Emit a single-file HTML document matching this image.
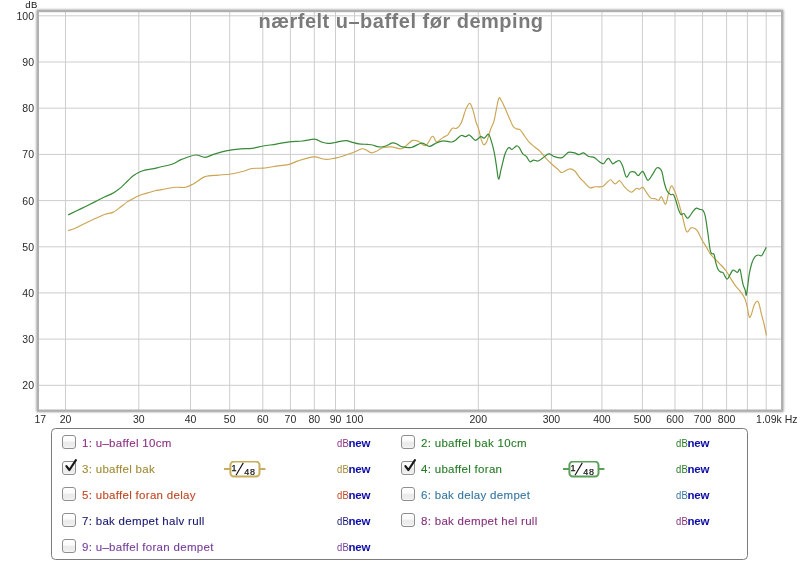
<!DOCTYPE html>
<html><head><meta charset="utf-8"><style>
html,body{margin:0;padding:0;background:#fff;width:800px;height:561px;overflow:hidden;font-family:"Liberation Sans",sans-serif;}
svg text{font-family:"Liberation Sans",sans-serif;}
.leg{position:absolute;left:51px;top:428px;width:695px;height:130px;border:1px solid #7c7c7c;border-radius:4.5px;box-sizing:content-box;}
.cb{position:absolute;width:12px;height:12px;border:1px solid #8e8e8e;border-radius:3px;background:linear-gradient(#fff 0%,#fbfbfb 40%,#ebebeb 55%,#ededed 85%,#f8f8f8 100%);}
.ck{position:absolute;left:0px;top:-4px;}
.lt{position:absolute;font-size:11.5px;line-height:14px;white-space:nowrap;letter-spacing:0.3px;-webkit-text-stroke:0.1px currentColor;}
.db{position:absolute;font-size:11.5px;line-height:14px;white-space:nowrap;letter-spacing:0.4px;transform:scaleX(0.82);transform-origin:0 0;}
.nw{color:#0c0ca8;font-weight:bold;letter-spacing:-0.1px;transform:none;}
.bsv{position:absolute;}
.bl{position:absolute;height:1.5px;}
.bd{position:absolute;width:27px;height:14px;border:1.5px solid;border-radius:4px;background:#fff;font-size:10px;color:#111;}
.n1{position:absolute;left:2px;top:0px;font-size:10px;}
.sl{position:absolute;left:6px;top:-1px;font-size:14px;}
.n2{position:absolute;left:13px;top:3px;font-size:10px;}
.wrap{position:absolute;left:0;top:0;width:800px;height:561px;will-change:transform;}
</style></head><body><div class="wrap">
<svg width="800" height="430" viewBox="0 0 800 430" style="position:absolute;left:0;top:0">
<defs><filter id="sh" x="-5%" y="-5%" width="110%" height="110%"><feGaussianBlur stdDeviation="1.3"/></filter></defs>
<rect x="38" y="11.2" width="744" height="399.3" fill="none" stroke="#777" stroke-width="3" filter="url(#sh)" opacity="0.75"/>
<rect x="38" y="11.2" width="744" height="399.3" fill="#fff"/>
<g stroke="#cdcdcd" stroke-width="1"><line x1="65.5" y1="11" x2="65.5" y2="410"/><line x1="138.8" y1="11" x2="138.8" y2="410"/><line x1="190.5" y1="11" x2="190.5" y2="410"/><line x1="229.7" y1="11" x2="229.7" y2="410"/><line x1="262.8" y1="11" x2="262.8" y2="410"/><line x1="290.4" y1="11" x2="290.4" y2="410"/><line x1="314.3" y1="11" x2="314.3" y2="410"/><line x1="335.5" y1="11" x2="335.5" y2="410"/><line x1="354.5" y1="11" x2="354.5" y2="410"/><line x1="478.3" y1="11" x2="478.3" y2="410"/><line x1="551.4" y1="11" x2="551.4" y2="410"/><line x1="601.9" y1="11" x2="601.9" y2="410"/><line x1="642.4" y1="11" x2="642.4" y2="410"/><line x1="675.0" y1="11" x2="675.0" y2="410"/><line x1="702.6" y1="11" x2="702.6" y2="410"/><line x1="726.6" y1="11" x2="726.6" y2="410"/><line x1="747.4" y1="11" x2="747.4" y2="410"/><line x1="766.2" y1="11" x2="766.2" y2="410"/><line x1="37" y1="385.3" x2="782" y2="385.3"/><line x1="37" y1="339.1" x2="782" y2="339.1"/><line x1="37" y1="292.9" x2="782" y2="292.9"/><line x1="37" y1="246.8" x2="782" y2="246.8"/><line x1="37" y1="200.6" x2="782" y2="200.6"/><line x1="37" y1="154.4" x2="782" y2="154.4"/><line x1="37" y1="108.2" x2="782" y2="108.2"/><line x1="37" y1="62.0" x2="782" y2="62.0"/><line x1="37" y1="15.8" x2="782" y2="15.8"/></g>
<text x="401" y="27.9" text-anchor="middle" font-size="20" font-weight="bold" fill="#7a7a7a" letter-spacing="0.5">nærfelt u–baffel før demping</text>
<path d="M68.2,230.6 C69.5,230.2 72.5,229.4 75.7,228.0 C78.9,226.6 82.6,224.5 87.5,222.2 C92.4,219.9 100.9,215.9 105.1,214.3 C109.3,212.7 110.6,213.4 112.9,212.4 C115.2,211.4 116.3,210.2 118.8,208.4 C121.2,206.6 125.6,203.0 127.6,201.6 C129.6,200.2 128.9,201.0 130.7,200.0 C132.5,199.0 135.7,196.9 138.6,195.7 C141.5,194.5 145.2,193.7 147.9,192.9 C150.6,192.1 152.7,191.2 155.0,190.7 C157.3,190.1 158.6,190.2 162.0,189.6 C165.4,189.0 171.8,187.7 175.7,187.3 C179.6,186.9 182.6,187.9 185.5,187.3 C188.4,186.7 191.3,184.9 193.3,183.9 C195.3,182.9 195.6,182.5 197.5,181.3 C199.4,180.1 201.6,177.6 205.0,176.6 C208.4,175.6 214.0,175.5 218.1,175.1 C222.2,174.7 225.3,174.8 229.4,174.2 C233.5,173.6 238.8,172.4 242.5,171.5 C246.2,170.6 248.5,169.1 251.9,168.5 C255.3,167.9 258.8,168.5 263.2,168.1 C267.6,167.7 273.8,166.5 278.2,165.9 C282.6,165.3 286.0,165.3 289.4,164.4 C292.8,163.5 294.7,161.8 298.8,160.6 C302.9,159.3 309.4,157.1 313.8,156.9 C318.2,156.7 321.6,159.1 325.1,159.3 C328.6,159.5 332.1,158.6 335.0,158.1 C337.9,157.6 339.4,157.3 342.5,156.3 C345.6,155.3 350.6,153.6 353.8,152.3 C357.0,151.1 359.8,149.2 361.9,148.8 C364.0,148.4 364.7,149.3 366.3,150.0 C367.9,150.7 369.6,152.6 371.3,152.8 C373.0,153.0 374.4,152.1 376.3,151.3 C378.2,150.5 380.0,148.5 382.5,147.8 C385.0,147.1 388.2,146.7 391.3,146.9 C394.4,147.1 398.8,149.0 401.3,148.8 C403.8,148.6 404.4,147.0 406.3,145.6 C408.2,144.2 410.4,141.1 412.5,140.4 C414.6,139.7 416.6,140.6 418.8,141.5 C421.0,142.4 423.3,146.5 425.6,145.6 C427.9,144.7 430.7,137.0 432.5,136.3 C434.3,135.7 435.0,141.1 436.2,141.7 C437.4,142.3 438.4,140.7 439.8,139.9 C441.2,139.1 443.0,137.5 444.3,136.7 C445.6,135.9 446.5,136.3 447.8,134.9 C449.1,133.5 450.8,129.4 452.3,128.3 C453.8,127.2 455.2,129.2 456.7,128.3 C458.2,127.4 459.7,126.1 461.2,123.0 C462.7,119.9 464.3,112.9 465.7,109.6 C467.1,106.3 468.4,103.4 469.6,103.4 C470.8,103.4 471.7,106.5 472.8,109.6 C473.9,112.7 475.1,119.0 476.0,122.1 C476.9,125.2 477.7,125.6 478.5,128.3 C479.3,131.0 480.0,135.4 480.8,138.1 C481.6,140.8 482.5,143.8 483.5,144.4 C484.5,145.0 485.5,144.2 486.7,141.7 C487.9,139.2 489.4,132.8 490.6,129.2 C491.9,125.6 492.9,125.3 494.2,120.3 C495.5,115.2 497.4,102.2 498.6,98.9 C499.8,95.6 500.2,99.2 501.3,100.7 C502.4,102.2 503.7,105.2 504.9,107.8 C506.1,110.4 507.2,113.3 508.6,116.4 C510.0,119.5 511.7,124.1 513.0,126.2 C514.3,128.3 515.4,128.3 516.6,128.9 C517.8,129.5 518.9,128.6 520.2,129.8 C521.5,131.0 523.1,133.9 524.6,136.0 C526.1,138.1 527.5,140.4 529.1,142.2 C530.7,144.0 532.6,145.2 534.4,146.7 C536.2,148.2 537.9,149.2 539.8,151.1 C541.7,153.0 543.9,156.1 546.0,158.3 C548.1,160.5 550.3,162.7 552.2,164.5 C554.1,166.3 556.0,167.7 557.6,169.0 C559.2,170.3 560.1,172.5 562.0,172.5 C563.9,172.5 567.1,169.3 569.2,169.0 C571.3,168.7 572.7,169.3 574.5,170.8 C576.3,172.3 578.3,176.0 579.9,177.9 C581.5,179.8 582.7,180.7 584.3,182.3 C585.9,183.9 587.9,186.9 589.7,187.7 C591.5,188.4 593.1,187.0 595.0,186.8 C596.9,186.7 599.9,186.9 601.3,186.8 C602.7,186.7 602.6,186.7 603.6,186.0 C604.6,185.3 605.9,183.4 607.1,182.4 C608.3,181.4 609.4,179.6 610.7,179.8 C612.1,180.1 613.7,183.8 615.2,183.9 C616.7,184.1 618.0,180.1 619.6,180.7 C621.2,181.3 623.1,185.5 625.0,187.4 C626.9,189.3 629.3,192.0 631.2,192.2 C633.1,192.3 635.2,188.8 636.5,188.3 C637.8,187.8 638.2,189.3 639.2,189.2 C640.2,189.0 641.6,186.9 642.8,187.4 C644.0,187.9 645.0,190.4 646.3,192.2 C647.6,194.0 649.3,197.0 650.8,198.1 C652.3,199.2 654.0,198.4 655.3,198.8 C656.6,199.2 657.8,200.7 658.8,200.3 C659.8,200.0 660.4,196.0 661.5,196.7 C662.6,197.3 664.4,204.8 665.6,204.2 C666.8,203.6 667.7,196.1 668.6,193.1 C669.5,190.1 670.4,186.6 671.3,186.0 C672.2,185.4 672.8,186.9 674.0,189.6 C675.2,192.3 677.1,197.8 678.4,202.0 C679.7,206.2 680.6,209.6 682.0,214.5 C683.4,219.4 685.0,229.3 686.5,231.5 C688.0,233.7 689.4,228.3 690.9,227.9 C692.4,227.5 694.2,228.1 695.4,228.8 C696.6,229.5 696.9,230.0 698.0,231.9 C699.1,233.8 700.7,237.6 702.0,240.0 C703.3,242.4 704.6,244.1 706.0,246.4 C707.4,248.7 708.6,251.5 710.1,253.6 C711.6,255.7 713.4,257.3 715.0,259.0 C716.6,260.7 717.9,261.8 719.8,263.8 C721.7,265.8 724.3,268.4 726.2,271.0 C728.1,273.6 729.5,276.6 731.1,279.1 C732.7,281.7 734.3,284.2 735.9,286.3 C737.5,288.4 739.2,289.9 740.7,291.9 C742.2,293.9 743.6,295.9 744.7,298.3 C745.8,300.7 746.4,303.3 747.1,306.4 C747.9,309.5 748.5,315.3 749.2,316.8 C749.9,318.3 750.2,317.2 751.1,315.2 C752.0,313.2 753.3,307.1 754.3,304.8 C755.3,302.5 756.3,301.3 757.1,301.2 C757.9,301.1 758.4,301.8 759.1,304.0 C759.8,306.2 760.7,311.1 761.5,314.4 C762.3,317.7 763.2,320.5 764.0,324.0 C764.8,327.5 766.0,333.4 766.4,335.3" fill="none" stroke="#cba552" stroke-width="1.15" stroke-linejoin="round"/>
<path d="M68.2,214.9 C70.1,214.0 75.1,211.6 79.6,209.4 C84.1,207.2 91.1,203.7 95.3,201.6 C99.5,199.5 102.2,198.1 105.0,196.8 C107.8,195.5 110.1,194.7 112.1,193.6 C114.1,192.5 115.5,191.5 117.1,190.4 C118.6,189.3 120.0,188.3 121.4,187.1 C122.8,185.8 124.3,184.3 125.7,182.9 C127.1,181.5 128.6,179.9 130.0,178.6 C131.4,177.3 132.9,176.0 134.3,175.0 C135.7,174.0 136.8,173.4 138.2,172.7 C139.6,172.0 141.1,171.3 142.9,170.7 C144.8,170.1 147.3,169.7 149.3,169.3 C151.3,168.9 153.2,168.8 155.0,168.4 C156.8,168.0 157.2,167.7 160.0,167.0 C162.8,166.3 168.2,165.6 171.8,164.3 C175.4,163.0 177.6,161.0 181.6,159.4 C185.6,157.8 191.7,155.3 195.6,155.0 C199.5,154.7 201.9,157.5 205.0,157.3 C208.1,157.2 210.7,155.2 214.4,154.1 C218.2,153.0 223.1,151.6 227.5,150.7 C231.9,149.8 236.5,149.2 240.6,148.8 C244.7,148.4 248.1,148.9 251.9,148.4 C255.7,147.9 259.1,146.7 263.2,146.0 C267.3,145.3 271.9,144.8 276.3,144.1 C280.7,143.4 285.0,142.4 289.4,141.9 C293.8,141.4 298.4,141.5 302.6,141.0 C306.8,140.5 311.7,138.9 314.8,139.1 C317.9,139.2 319.1,141.2 321.3,141.9 C323.5,142.6 325.6,143.3 327.9,143.4 C330.2,143.5 333.0,142.8 335.0,142.5 C337.0,142.2 338.1,141.6 340.0,141.3 C341.9,141.0 344.2,140.4 346.3,140.6 C348.4,140.8 350.4,141.8 352.5,142.3 C354.6,142.8 356.3,143.5 358.8,143.8 C361.3,144.2 365.2,144.2 367.5,144.4 C369.8,144.6 370.6,144.6 372.5,145.0 C374.4,145.4 376.7,146.7 378.8,146.9 C380.9,147.1 382.7,147.0 385.0,146.3 C387.3,145.6 390.4,143.2 392.5,142.9 C394.6,142.6 395.8,143.7 397.5,144.4 C399.2,145.1 400.2,146.4 402.5,146.9 C404.8,147.4 408.2,148.1 411.3,147.5 C414.4,146.9 418.8,143.5 421.3,143.1 C423.8,142.7 424.9,144.5 426.3,145.0 C427.8,145.5 428.2,146.7 430.0,146.3 C431.8,145.9 434.9,143.5 437.1,142.6 C439.3,141.7 441.0,140.9 443.4,140.8 C445.8,140.7 449.3,142.2 451.4,142.0 C453.5,141.8 454.2,141.0 455.8,139.9 C457.4,138.8 459.6,136.0 461.2,135.5 C462.8,135.0 464.4,136.8 465.7,136.7 C467.0,136.6 467.9,134.8 468.9,134.9 C469.9,135.0 470.8,136.3 471.9,137.2 C473.0,138.1 474.0,140.4 475.5,140.3 C477.0,140.2 479.3,137.1 480.8,136.7 C482.3,136.3 483.1,138.5 484.4,138.1 C485.7,137.7 487.3,133.6 488.5,134.2 C489.7,134.8 490.6,138.7 491.5,141.7 C492.4,144.7 493.4,148.5 494.2,152.4 C495.0,156.3 495.6,160.5 496.3,164.9 C497.0,169.3 497.8,178.5 498.6,179.1 C499.4,179.7 500.2,172.6 501.3,168.4 C502.4,164.2 503.8,157.5 504.9,154.2 C506.0,150.9 506.9,149.6 507.7,148.5 C508.5,147.4 508.8,147.4 509.5,147.6 C510.2,147.8 510.9,149.7 512.1,149.4 C513.3,149.1 515.4,146.1 516.6,145.8 C517.8,145.5 518.3,146.3 519.3,147.6 C520.3,148.9 521.6,152.3 522.8,153.8 C524.0,155.3 525.2,155.2 526.4,156.5 C527.6,157.8 528.8,161.2 530.0,161.8 C531.2,162.4 532.2,160.2 533.5,160.1 C534.8,160.0 536.5,161.3 538.0,161.0 C539.5,160.7 540.6,159.5 542.4,158.3 C544.2,157.1 546.8,154.1 548.7,153.8 C550.6,153.5 551.8,155.8 554.0,156.5 C556.2,157.2 559.6,158.4 562.0,157.7 C564.4,157.0 566.2,153.2 568.3,152.4 C570.4,151.6 572.7,152.5 574.5,152.9 C576.3,153.3 577.5,154.7 579.0,154.7 C580.5,154.7 581.8,152.6 583.4,152.9 C585.0,153.2 587.0,155.8 588.8,156.5 C590.6,157.2 592.3,156.5 594.1,157.4 C595.9,158.3 597.9,160.8 599.5,161.8 C601.1,162.9 602.5,164.0 603.6,163.7 C604.7,163.4 605.3,161.1 606.2,160.2 C607.1,159.3 607.9,157.8 608.9,158.4 C609.9,159.0 611.3,163.1 612.5,163.7 C613.7,164.3 614.8,162.4 616.0,161.9 C617.2,161.4 618.5,159.9 619.6,160.7 C620.7,161.4 621.7,163.7 622.8,166.4 C623.9,169.1 625.1,176.2 626.4,177.1 C627.6,178.0 628.9,172.9 630.3,172.1 C631.7,171.3 633.5,171.5 634.8,172.1 C636.1,172.7 637.0,175.8 638.3,175.7 C639.6,175.6 641.2,170.6 642.8,171.4 C644.4,172.2 646.2,179.8 647.8,180.3 C649.4,180.8 651.1,176.5 652.6,174.4 C654.1,172.3 655.5,168.4 657.0,167.8 C658.5,167.2 660.3,168.4 661.5,170.8 C662.7,173.2 663.3,179.1 664.2,182.4 C665.1,185.7 665.8,188.5 666.8,190.5 C667.8,192.5 669.3,193.9 670.4,194.6 C671.5,195.3 672.5,193.6 673.4,194.6 C674.3,195.6 675.0,197.9 675.8,200.3 C676.6,202.7 677.5,206.8 678.4,209.2 C679.3,211.6 680.2,213.8 681.1,214.5 C682.0,215.2 682.8,213.0 683.8,213.6 C684.8,214.2 686.3,217.6 687.3,218.1 C688.2,218.6 688.5,217.7 689.5,216.5 C690.5,215.3 692.1,212.5 693.2,211.1 C694.4,209.7 695.3,208.5 696.4,208.2 C697.5,207.9 698.5,209.1 699.6,209.4 C700.7,209.7 701.9,209.1 702.8,210.2 C703.7,211.3 704.4,212.3 705.2,215.9 C706.0,219.5 706.9,226.3 707.7,231.9 C708.5,237.5 709.4,246.0 710.1,249.6 C710.8,253.2 711.0,252.8 711.7,253.6 C712.4,254.4 713.4,252.9 714.1,254.4 C714.8,255.9 715.0,259.9 715.7,262.4 C716.4,264.9 717.3,268.0 718.1,269.6 C718.9,271.2 719.8,271.4 720.6,271.9 C721.4,272.4 721.9,271.5 723.0,272.7 C724.1,273.9 725.8,278.8 727.0,279.1 C728.2,279.4 729.2,275.8 730.2,274.3 C731.2,272.8 731.9,270.8 732.7,270.2 C733.5,269.6 734.3,270.6 735.1,271.0 C735.9,271.4 736.7,272.6 737.5,272.3 C738.3,272.0 739.2,268.4 739.9,269.1 C740.6,269.8 741.0,274.1 741.5,276.7 C742.0,279.3 742.5,282.4 743.1,284.7 C743.7,287.0 744.7,288.6 745.2,290.3 C745.7,292.0 745.8,296.0 746.3,295.1 C746.8,294.2 747.4,288.4 747.9,284.7 C748.4,281.0 748.8,276.3 749.5,272.7 C750.2,269.1 751.0,265.7 751.9,263.0 C752.8,260.3 754.0,257.9 755.1,256.6 C756.2,255.3 757.2,255.1 758.3,255.0 C759.4,254.9 760.6,256.3 761.5,255.8 C762.4,255.3 763.0,253.4 763.8,252.0 C764.6,250.6 765.8,248.0 766.2,247.2" fill="none" stroke="#388a38" stroke-width="1.2" stroke-linejoin="round"/>
<rect x="38" y="11.2" width="744" height="399.3" fill="none" stroke="#b0b0b0" stroke-width="2"/>
<g font-size="10.5" fill="#2a2a2a"><text x="65.5" y="423" text-anchor="middle">20</text><text x="138.8" y="423" text-anchor="middle">30</text><text x="190.5" y="423" text-anchor="middle">40</text><text x="229.7" y="423" text-anchor="middle">50</text><text x="262.8" y="423" text-anchor="middle">60</text><text x="290.4" y="423" text-anchor="middle">70</text><text x="314.3" y="423" text-anchor="middle">80</text><text x="335.5" y="423" text-anchor="middle">90</text><text x="354.5" y="423" text-anchor="middle">100</text><text x="478.3" y="423" text-anchor="middle">200</text><text x="551.4" y="423" text-anchor="middle">300</text><text x="601.9" y="423" text-anchor="middle">400</text><text x="642.4" y="423" text-anchor="middle">500</text><text x="675.0" y="423" text-anchor="middle">600</text><text x="702.6" y="423" text-anchor="middle">700</text><text x="726.6" y="423" text-anchor="middle">800</text><text x="34.5" y="423">17</text><text x="797.5" y="423" text-anchor="end">1.09k Hz</text><text x="34" y="389.2" text-anchor="end">20</text><text x="34" y="343.0" text-anchor="end">30</text><text x="34" y="296.8" text-anchor="end">40</text><text x="34" y="250.7" text-anchor="end">50</text><text x="34" y="204.5" text-anchor="end">60</text><text x="34" y="158.3" text-anchor="end">70</text><text x="34" y="112.1" text-anchor="end">80</text><text x="34" y="65.9" text-anchor="end">90</text><text x="34" y="19.7" text-anchor="end">100</text><text x="25.3" y="7.9" font-size="9.5" fill="#111" letter-spacing="0.5">dB</text></g>
</svg>
<div class="leg"></div>
<div class="cb" style="left:62px;top:435.4px"></div><div class="lt" style="left:82px;top:435.9px;color:#8c3080">1: u–baffel 10cm</div><div class="db" style="left:336.6px;top:435.9px;color:#8c3080">dB</div><div class="db nw" style="left:348.4px;top:435.9px">new</div><div class="cb" style="left:62px;top:461.3px"><svg class="ck" width="16" height="16" viewBox="0 0 16 16"><path d="M3.4,8.1 L6.4,12 L12.9,2.2" fill="none" stroke="#1a1a1a" stroke-width="2.2" stroke-linecap="round" stroke-linejoin="round"/></svg></div><div class="lt" style="left:82px;top:461.8px;color:#a08a32">3: ubaffel bak</div><div class="db" style="left:336.6px;top:461.8px;color:#a08a32">dB</div><div class="db nw" style="left:348.4px;top:461.8px">new</div><svg class="bsv" style="left:224px;top:461.0px" width="50" height="24" viewBox="0 0 50 24">
<line x1="0" y1="7.9" x2="41.4" y2="7.9" stroke="#c8ad5c" stroke-width="2"/>
<rect x="6.4" y="0.6" width="29.1" height="14.9" rx="3.5" fill="#fff" stroke="#c8ad5c" stroke-width="2"/>
<text x="7.6" y="10.1" font-size="9" fill="#111" stroke="#111" stroke-width="0.25">1</text>
<line x1="12" y1="14.3" x2="19.3" y2="1.9" stroke="#111" stroke-width="1.1"/>
<text x="20.2" y="13.7" font-size="9" fill="#111" stroke="#111" stroke-width="0.2" letter-spacing="0.9">48</text>
</svg><div class="cb" style="left:62px;top:487.2px"></div><div class="lt" style="left:82px;top:487.7px;color:#c04622">5: ubaffel foran delay</div><div class="db" style="left:336.6px;top:487.7px;color:#c04622">dB</div><div class="db nw" style="left:348.4px;top:487.7px">new</div><div class="cb" style="left:62px;top:513.1px"></div><div class="lt" style="left:82px;top:513.6px;color:#16166e">7: bak dempet halv rull</div><div class="db" style="left:336.6px;top:513.6px;color:#16166e">dB</div><div class="db nw" style="left:348.4px;top:513.6px">new</div><div class="cb" style="left:62px;top:539.0px"></div><div class="lt" style="left:82px;top:539.5px;color:#743c98">9: u–baffel foran dempet</div><div class="db" style="left:336.6px;top:539.5px;color:#743c98">dB</div><div class="db nw" style="left:348.4px;top:539.5px">new</div><div class="cb" style="left:401px;top:435.4px"></div><div class="lt" style="left:421px;top:435.9px;color:#237a23">2: ubaffel bak 10cm</div><div class="db" style="left:675.6px;top:435.9px;color:#237a23">dB</div><div class="db nw" style="left:687.4px;top:435.9px">new</div><div class="cb" style="left:401px;top:461.3px"><svg class="ck" width="16" height="16" viewBox="0 0 16 16"><path d="M3.4,8.1 L6.4,12 L12.9,2.2" fill="none" stroke="#1a1a1a" stroke-width="2.2" stroke-linecap="round" stroke-linejoin="round"/></svg></div><div class="lt" style="left:421px;top:461.8px;color:#237a23">4: ubaffel foran</div><div class="db" style="left:675.6px;top:461.8px;color:#237a23">dB</div><div class="db nw" style="left:687.4px;top:461.8px">new</div><svg class="bsv" style="left:563px;top:461.0px" width="50" height="24" viewBox="0 0 50 24">
<line x1="0" y1="7.9" x2="41.4" y2="7.9" stroke="#5aa05a" stroke-width="2"/>
<rect x="6.4" y="0.6" width="29.1" height="14.9" rx="3.5" fill="#fff" stroke="#5aa05a" stroke-width="2"/>
<text x="7.6" y="10.1" font-size="9" fill="#111" stroke="#111" stroke-width="0.25">1</text>
<line x1="12" y1="14.3" x2="19.3" y2="1.9" stroke="#111" stroke-width="1.1"/>
<text x="20.2" y="13.7" font-size="9" fill="#111" stroke="#111" stroke-width="0.2" letter-spacing="0.9">48</text>
</svg><div class="cb" style="left:401px;top:487.2px"></div><div class="lt" style="left:421px;top:487.7px;color:#3476a0">6: bak delay dempet</div><div class="db" style="left:675.6px;top:487.7px;color:#3476a0">dB</div><div class="db nw" style="left:687.4px;top:487.7px">new</div><div class="cb" style="left:401px;top:513.1px"></div><div class="lt" style="left:421px;top:513.6px;color:#86307a">8: bak dempet hel rull</div><div class="db" style="left:675.6px;top:513.6px;color:#86307a">dB</div><div class="db nw" style="left:687.4px;top:513.6px">new</div>
</div></body></html>
